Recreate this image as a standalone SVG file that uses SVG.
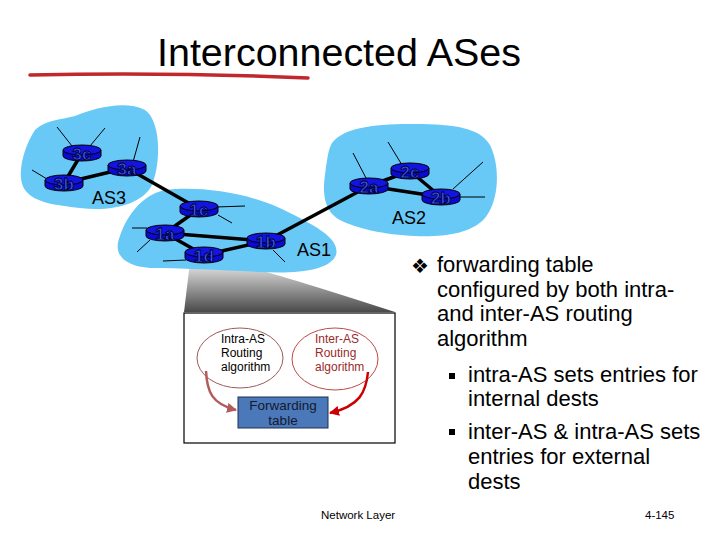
<svg xmlns="http://www.w3.org/2000/svg" width="720" height="540" viewBox="0 0 720 540">
<style>
.blob{fill:#68c9f7;stroke:none}
.link{stroke:#000;stroke-width:3.5;fill:none}
.stub{stroke:#000;stroke-width:1;fill:none}
.rlab{font-family:"Liberation Sans",Arial,sans-serif;font-size:17px;font-weight:bold;fill:#3a5cff;stroke:#000030;stroke-width:0.9;text-anchor:middle}
.aslab{font-family:"Liberation Sans",Arial,sans-serif;font-size:18px;fill:#000}
.small{font-family:"Liberation Sans",Arial,sans-serif;font-size:12px}
.bul{font-family:"Liberation Sans",Arial,sans-serif;font-size:22px;fill:#000}
.foot{font-family:"Liberation Sans",Arial,sans-serif;font-size:11.5px;fill:#000}
</style>
<defs>
<g id="router">
<path d="M-19,-3 L-19,3 A19,5 0 0 0 19,3 L19,-3 Z" fill="#0a0ad0" stroke="#000" stroke-width="1"/>
<ellipse cx="0" cy="-3" rx="19" ry="5" fill="#1414e0" stroke="#000" stroke-width="1"/>
</g>
<linearGradient id="funnelGrad" x1="0" y1="0" x2="0" y2="1">
<stop offset="0" stop-color="#eaeaea"/>
<stop offset="1" stop-color="#4a4a4a"/>
</linearGradient>
<marker id="arrBrown" viewBox="0 0 10 10" refX="9" refY="5" markerWidth="4" markerHeight="4" orient="auto" markerUnits="strokeWidth">
<path d="M0,0 L10,5 L0,10 Z" fill="#b25b5b"/>
</marker>
<marker id="arrRed" viewBox="0 0 10 10" refX="9" refY="5" markerWidth="4" markerHeight="4" orient="auto" markerUnits="strokeWidth">
<path d="M0,0 L10,5 L0,10 Z" fill="#cc0000"/>
</marker>
</defs>
<rect width="720" height="540" fill="#fff"/>

<!-- Title -->
<text x="157" y="66" font-family="'Liberation Sans',Arial,sans-serif" font-size="39" textLength="364" lengthAdjust="spacingAndGlyphs" fill="#000">Interconnected ASes</text>
<path d="M30,75 Q170,72 308,78" stroke="#c0282d" stroke-width="3.5" fill="none" stroke-linecap="round"/>

<!-- funnel -->
<path d="M190,262 L230,262 Q285,276 395,312 L184,312 Z" fill="url(#funnelGrad)"/>

<!-- AS blobs -->
<g id="as3">
<path class="blob" d="M75,116 C95,108 125,100 145,110 C160,120 162,160 152,185 C142,205 110,212 80,208 C55,205 35,203 25,190 C15,175 25,145 35,130 C45,120 60,120 75,116 Z"/>
<text class="aslab" x="92" y="204">AS3</text>
</g>
<g id="as1">
<path class="blob" d="M165,190 C200,186 250,192 290,213 C320,228 340,240 336,255 C330,270 300,274 260,272 C220,270 180,268 150,268 C125,266 112,255 120,236 C125,220 140,195 165,190 Z"/>
<text class="aslab" x="297" y="256">AS1</text>
</g>
<g id="as2">
<path class="blob" d="M332,143 C345,126 380,124 415,124 C455,124 480,128 490,145 C500,165 500,200 485,218 C470,235 440,237 415,236 C385,235 355,228 340,220 C325,212 322,195 325,175 C327,160 328,150 332,143 Z"/>
<text class="aslab" x="392" y="224">AS2</text>
</g>

<!-- connectors -->
<g id="connectors">
<line class="link" x1="82" y1="153" x2="64" y2="183"/>
<line class="link" x1="64" y1="183" x2="127" y2="168"/>
<line class="link" x1="127" y1="168" x2="199" y2="209"/>
<line class="link" x1="199" y1="209" x2="165" y2="233"/>
<line class="link" x1="165" y1="233" x2="266" y2="241"/>
<line class="link" x1="165" y1="233" x2="204" y2="255"/>
<line class="link" x1="204" y1="255" x2="266" y2="241"/>
<line class="link" x1="266" y1="241" x2="369" y2="186"/>
<line class="link" x1="369" y1="186" x2="410" y2="171"/>
<line class="link" x1="369" y1="186" x2="441" y2="197"/>
<line class="link" x1="410" y1="171" x2="441" y2="197"/>
<line class="stub" x1="72" y1="146" x2="57" y2="127"/>
<line class="stub" x1="90" y1="146" x2="105" y2="128"/>
<line class="stub" x1="47" y1="179" x2="32" y2="170"/>
<line class="stub" x1="133" y1="162" x2="140" y2="137"/>
<line class="stub" x1="216" y1="207" x2="245" y2="206"/>
<line class="stub" x1="218" y1="215" x2="232" y2="223"/>
<line class="stub" x1="147" y1="228" x2="132" y2="228"/>
<line class="stub" x1="150" y1="240" x2="137" y2="252"/>
<line class="stub" x1="186" y1="260" x2="163" y2="261"/>
<line class="stub" x1="273" y1="250" x2="285" y2="262"/>
<line class="stub" x1="366" y1="178" x2="353" y2="153"/>
<line class="stub" x1="402" y1="165" x2="388" y2="142"/>
<line class="stub" x1="453" y1="189" x2="483" y2="162"/>
<line class="stub" x1="459" y1="197" x2="485" y2="197"/>
</g>

<!-- routers -->
<g id="r3c"><use href="#router" x="82" y="153"/><text class="rlab" x="82" y="160">3c</text></g>
<g id="r3b"><use href="#router" x="64" y="183"/><text class="rlab" x="64" y="190">3b</text></g>
<g id="r3a"><use href="#router" x="127" y="168"/><text class="rlab" x="127" y="175">3a</text></g>
<g id="r1c"><use href="#router" x="199" y="209"/><text class="rlab" x="199" y="216">1c</text></g>
<g id="r1a"><use href="#router" x="165" y="233"/><text class="rlab" x="165" y="240">1a</text></g>
<g id="r1d"><use href="#router" x="204" y="255"/><text class="rlab" x="204" y="262">1d</text></g>
<g id="r1b"><use href="#router" x="266" y="241"/><text class="rlab" x="266" y="248">1b</text></g>
<g id="r2a"><use href="#router" x="369" y="186"/><text class="rlab" x="369" y="193">2a</text></g>
<g id="r2c"><use href="#router" x="410" y="171"/><text class="rlab" x="410" y="178">2c</text></g>
<g id="r2b"><use href="#router" x="441" y="197"/><text class="rlab" x="441" y="204">2b</text></g>

<!-- zoomed router internals -->
<g id="box">
<rect x="184" y="313" width="211" height="130" fill="#fff" stroke="#000" stroke-width="1.2"/>
</g>
<g id="intra">
<ellipse cx="240" cy="358" rx="43" ry="30" fill="none" stroke="#a05a5a" stroke-width="1"/>
<text class="small" x="221" y="343" fill="#000">Intra-AS</text>
<text class="small" x="221" y="357" fill="#000">Routing</text>
<text class="small" x="221" y="371" fill="#000">algorithm</text>
</g>
<g id="inter">
<ellipse cx="335" cy="359" rx="43" ry="31" fill="none" stroke="#c04848" stroke-width="1"/>
<text class="small" x="315" y="343" fill="#9a2a2a">Inter-AS</text>
<text class="small" x="315" y="357" fill="#9a2a2a">Routing</text>
<text class="small" x="315" y="371" fill="#9a2a2a">algorithm</text>
</g>
<g id="fwd">
<rect x="238" y="397" width="90" height="31" fill="#4a78b8" stroke="#1f3050" stroke-width="1"/>
<text x="283" y="410" font-family="'Liberation Sans',Arial,sans-serif" font-size="13.5" fill="#141830" text-anchor="middle">Forwarding</text>
<text x="283" y="425" font-family="'Liberation Sans',Arial,sans-serif" font-size="13.5" fill="#141830" text-anchor="middle">table</text>
</g>
<g id="arrows">
<path d="M206,371 C207,392 212,404 236,410" stroke="#b25b5b" stroke-width="2.5" fill="none" marker-end="url(#arrBrown)"/>
<path d="M368,372 C366,392 360,406 330,413" stroke="#cc0000" stroke-width="2.5" fill="none" marker-end="url(#arrRed)"/>
</g>

<!-- bullet text -->
<text x="411" y="273" font-family="'DejaVu Sans',sans-serif" font-size="20" fill="#000">❖</text>
<text class="bul" x="437" y="272">forwarding table</text>
<text class="bul" x="437" y="297">configured by both intra-</text>
<text class="bul" x="437" y="321">and inter-AS routing</text>
<text class="bul" x="437" y="346">algorithm</text>
<rect x="449" y="373" width="6" height="6" fill="#000"/>
<text class="bul" x="468" y="382">intra-AS sets entries for</text>
<text class="bul" x="468" y="406">internal dests</text>
<rect x="449" y="429" width="6" height="6" fill="#000"/>
<text class="bul" x="468" y="439">inter-AS &amp; intra-AS sets</text>
<text class="bul" x="468" y="464">entries for external</text>
<text class="bul" x="468" y="489">dests</text>

<!-- footer -->
<text class="foot" x="321" y="519">Network Layer</text>
<text class="foot" x="645" y="519">4-145</text>
</svg>
